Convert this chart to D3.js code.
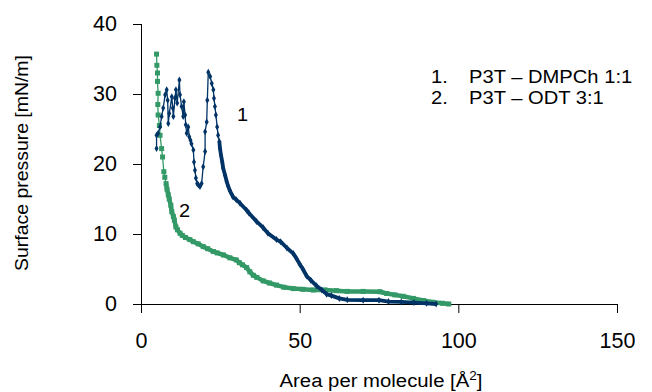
<!DOCTYPE html>
<html>
<head>
<meta charset="utf-8">
<script src="https://cdn.jsdelivr.net/npm/d3@7"></script>
<style>
  html, body { margin: 0; padding: 0; background: #fff; }
  svg { display: block; font-family: "Liberation Sans", Arial, sans-serif; }
</style>
</head>
<body>
<svg id="chart" width="652" height="392"></svg>
<script>
// ---- Data ----
const xTicks = [0, 50, 100, 150];
const yTicks = [0, 10, 20, 30, 40];
const xTitle = "Area per molecule [Å";
const yTitle = "Surface pressure [mN/m]";
const legendLabels = ["P3T – DMPCh 1:1", "P3T – ODT 3:1"];
const curveLabels = ["1", "2"];

// Series 1: P3T – DMPCh 1:1  (area per molecule, surface pressure)
const s1Area = [93, 90, 86, 82, 78, 75, 70, 65, 62.5, 60, 58.5, 57, 55.3, 53.5, 52.2, 51, 50, 49, 48, 46, 44, 42.7, 40, 38.5, 36.4, 34, 33.3, 31.2, 30, 29, 28, 27.5, 27, 26.5, 25.9, 25.6, 25.2, 24.9, 24.7, 24.3, 24, 23.6, 23.3, 23, 22.8, 22.3, 21.8, 21.2,
  20.9, 20.7, 20.2, 20.2, 19.6, 19.1, 18.6, 18.1, 17.7, 17.3, 17, 16.7, 16.5, 15.9, 15.6, 15.2, 14.9, 14.4, 14.1, 13.9, 13.5, 13.3, 12.8, 12.3, 12.1, 11.4, 11, 10.7, 10.2, 10, 9.7, 8.9, 8.6, 8.4, 8.1, 7.6, 7, 6.5, 6, 5.4, 4.9, 4.9];
const s1Pres = [0.0, 0.1, 0.2, 0.3, 0.35, 0.55, 0.55, 0.6, 0.8, 1.2, 1.4, 2.0, 2.6, 3.4, 4.0, 5.0, 5.7, 6.5, 7.2, 8.0, 8.9, 9.2, 10.1, 10.9, 11.8, 13.0, 13.4, 14.4, 14.9, 15.3, 16.2, 16.8, 17.5, 18.4, 19.4, 20.3, 21.3, 22.2, 23.2, 24.1, 25.3, 27.0, 28.2, 29.4, 30.6, 31.5, 32.5, 33.1,
  29.1, 26.0, 24.6, 21.8, 19.6, 17.2, 16.8, 17.0, 17.2, 18.0, 19.1, 20.3, 22.0, 22.9, 23.4, 23.9, 25.3, 24.4, 25.6, 27.0, 28.9, 26.8, 28.2, 29.9, 32.0, 28.7, 30.6, 29.4, 26.8, 28.0, 29.6, 27.2, 25.8, 29.1, 30.6, 29.9, 28.0, 26.8, 25.3, 24.4, 24.1, 22.2];

// Series 2: P3T – ODT 3:1
const s2Area = [97, 95, 92, 89, 85.8, 82.6, 80, 77.4, 75.3, 70, 65, 61.6, 58, 54.3, 51, 48, 45, 42.7, 40.5, 38.5, 36.5, 35.4, 34.3, 33.3, 32, 31, 30, 28, 26, 24, 22.8, 21, 19.6, 18, 16.5, 15.4, 14, 13, 12.3, 11.5, 11, 10.5, 10.2, 9.7, 9.4, 8.9, 8.6, 8.2, 7.9, 7.5, 7.2, 6.8, 6.5, 6.0, 5.8, 5.4, 5.3, 5.4, 5.2, 5.2, 5.0, 4.9];
const s2Pres = [0.0, 0.1, 0.25, 0.5, 0.8, 1.1, 1.3, 1.5, 1.75, 1.8, 1.8, 1.9, 2.0, 2.0, 2.1, 2.2, 2.4, 2.7, 3.0, 3.3, 3.8, 4.1, 4.6, 5.2, 5.6, 5.9, 6.3, 6.6, 7.0, 7.3, 7.5, 7.9, 8.2, 8.6, 8.9, 9.2, 9.5, 9.8, 10.1, 10.6, 11.0, 12.0, 12.5, 13.2, 14.1, 15.0, 15.6, 16.4, 17.2, 18.1, 18.9, 21.0, 22.2, 24.1, 25.5, 27.0, 28.5, 30.1, 31.8, 33.0, 34.1, 35.7];

const s1 = s1Area.map((a, i) => ({ a, p: s1Pres[i] }));
const s2 = s2Area.map((a, i) => ({ a, p: s2Pres[i] }));

// ---- Layout ----
const svg = d3.select("#chart");
const x = d3.scaleLinear().domain([0, 150]).range([141, 617]);
const y = d3.scaleLinear().domain([0, 40]).range([304, 24]);

const blue = "#003366", green = "#339966";
const FONT = '"Liberation Sans", Arial, sans-serif';

// helper: text horizontally stretched like the reference
function stretchedText(px, py, size, sx, str, anchor) {
  return svg.append("text")
    .attr("transform", `translate(${px},${py}) scale(${sx},1)`)
    .attr("text-anchor", anchor || "start")
    .attr("font-family", FONT).attr("font-size", size).attr("fill", "#000")
    .text(str);
}

// Axes
const gx = svg.append("g").attr("transform", "translate(0,304)")
  .call(d3.axisBottom(x).tickValues(xTicks).tickSize(9).tickPadding(20).tickFormat(d3.format("d")));
const gy = svg.append("g").attr("transform", "translate(141,0)")
  .call(d3.axisLeft(y).tickValues(yTicks).tickSize(8).tickPadding(16).tickFormat(d3.format("d")));
[gx, gy].forEach(g => {
  g.select(".domain").attr("stroke", "#000").attr("stroke-width", 1);
  g.selectAll(".tick line").attr("stroke", "#000");
  g.selectAll(".tick text").attr("font-family", FONT).attr("font-size", 21.5).attr("fill", "#000");
});
gy.select(".domain").attr("d", "M0.5,24V304.5");
gx.select(".domain").attr("d", "M141,0.5H617");

// Lines
const line = d3.line().x(d => x(d.a)).y(d => y(d.p));

// series 2 (green)
svg.append("path").datum(s2).attr("d", line)
  .attr("fill", "none").attr("stroke", green).attr("stroke-width", 1.3);
svg.append("path").datum(s2.filter(d => d.p <= 17.5)).attr("d", line)
  .attr("fill", "none").attr("stroke", green).attr("stroke-width", 4.5).attr("stroke-linejoin", "round");
svg.append("g").selectAll("rect").data(s2).join("rect")
  .attr("x", d => x(d.a) - 2.5).attr("y", d => y(d.p) - 2.5)
  .attr("width", 5).attr("height", 5).attr("fill", green);

// series 1 (blue)
svg.append("path").datum(s1).attr("d", line)
  .attr("fill", "none").attr("stroke", blue).attr("stroke-width", 1.3);
svg.append("path").datum(s1.filter(d => d.a >= 24.5)).attr("d", line)
  .attr("fill", "none").attr("stroke", blue).attr("stroke-width", 3.8).attr("stroke-linejoin", "round");
const diamond = d3.symbol().type(d3.symbolDiamond).size(14);
svg.append("g").selectAll("path").data(s1).join("path")
  .attr("d", diamond)
  .attr("transform", d => `translate(${x(d.a)},${y(d.p)})`)
  .attr("fill", blue);

// Curve labels
stretchedText(237, 121, 19, 1.05, curveLabels[0]);
stretchedText(179, 217, 19, 1.05, curveLabels[1]);

// Legend
legendLabels.forEach((t, i) => {
  const yy = 83 + i * 21;
  stretchedText(431, yy, 18, 1.12, (i + 1) + ".");
  stretchedText(469, yy, 18, 1.12, t);
});

// Axis titles
const xt = svg.append("text")
  .attr("transform", "translate(381,387) scale(1.13,1)")
  .attr("text-anchor", "middle")
  .attr("font-family", FONT).attr("font-size", 18);
xt.append("tspan").text(xTitle);
xt.append("tspan").attr("dy", -7).attr("font-size", 12).text("2");
xt.append("tspan").attr("dy", 7).text("]");

svg.append("text")
  .attr("transform", "translate(28,163) rotate(-90) scale(1.08,1)")
  .attr("text-anchor", "middle")
  .attr("font-family", FONT).attr("font-size", 18).text(yTitle);
</script>
</body>
</html>
